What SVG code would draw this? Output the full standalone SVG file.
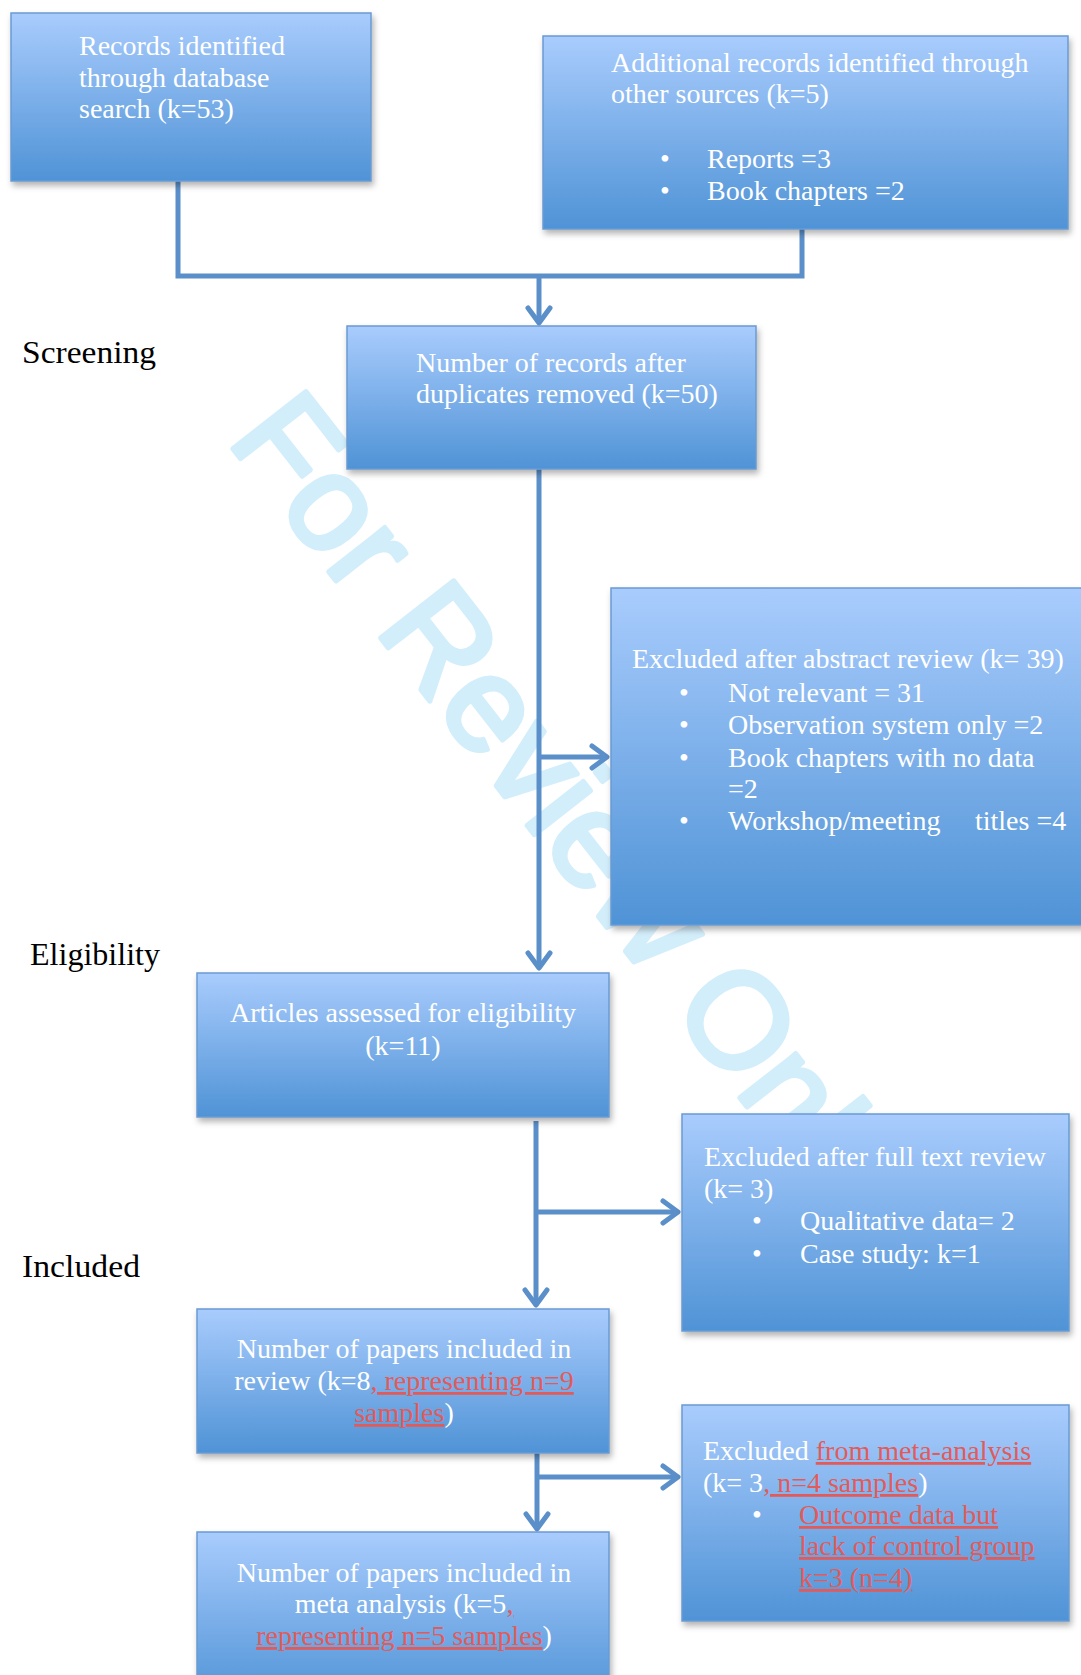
<svg xmlns="http://www.w3.org/2000/svg" width="1081" height="1675" viewBox="0 0 1081 1675">
<style>
.bx{fill:url(#g);stroke:#6a9bd2;stroke-width:1.5;filter:url(#sh)}
.t{font-family:"Liberation Serif","Times New Roman",serif;font-size:28px;fill:#ffffff}
.c{text-anchor:middle}
.r{fill:#e25b5b;text-decoration:underline}
.lab{font-family:"Liberation Serif","Times New Roman",serif;font-size:32px;fill:#000000}
.cn{fill:none;stroke:#5b8fc9;stroke-width:5}
.wm{font-family:"Liberation Sans",Arial,sans-serif;font-size:135px;fill:#d3eefb;stroke:#d3eefb;stroke-width:5;stroke-linejoin:round}
</style>
<defs>
<linearGradient id="g" x1="0" y1="0" x2="0" y2="1">
<stop offset="0" stop-color="#a9ccfd"/>
<stop offset="1" stop-color="#4f93d6"/>
</linearGradient>
<filter id="sh" x="-5%" y="-5%" width="115%" height="120%">
<feDropShadow dx="2" dy="4" stdDeviation="3" flood-color="#000" flood-opacity="0.3"/>
</filter>
<marker id="ar" markerUnits="userSpaceOnUse" markerWidth="40" markerHeight="40" viewBox="-20 -20 40 40" refX="0" refY="0" orient="auto">
<path d="M-15,-11 L0,0 L-15,11" fill="none" stroke="#5b8fc9" stroke-width="5" stroke-linecap="round" stroke-linejoin="round"/>
</marker>
</defs>
<rect width="1081" height="1675" fill="#ffffff"/>
<text class="wm" transform="translate(226,440) rotate(52)">For Review Only</text>

<g id="connectors">
<path class="cn" d="M178,181 V276 H802 V229"/>
<path class="cn" d="M539,276 V323" marker-end="url(#ar)"/>
<path class="cn" d="M539,469 V968" marker-end="url(#ar)"/>
<path class="cn" d="M539,757 H607" marker-end="url(#ar)"/>
<path class="cn" d="M536,1121 V1305" marker-end="url(#ar)"/>
<path class="cn" d="M536,1212 H678" marker-end="url(#ar)"/>
<path class="cn" d="M537,1437 V1529" marker-end="url(#ar)"/>
<path class="cn" d="M537,1477 H678" marker-end="url(#ar)"/>
</g>

<g id="labels">
<text class="lab" x="22" y="363" textLength="134" lengthAdjust="spacingAndGlyphs">Screening</text>
<text class="lab" x="30" y="965" textLength="130" lengthAdjust="spacingAndGlyphs">Eligibility</text>
<text class="lab" x="22" y="1277" textLength="118" lengthAdjust="spacingAndGlyphs">Included</text>
</g>

<g id="records-db">
<rect class="bx" x="11" y="13" width="360" height="168"/>
<text class="t" x="79" y="55">Records identified</text>
<text class="t" x="79" y="87">through database</text>
<text class="t" x="79" y="118">search (k=53)</text>
</g>

<g id="records-other">
<rect class="bx" x="543" y="36" width="525" height="193"/>
<text class="t" x="611" y="72">Additional records identified through</text>
<text class="t" x="611" y="103">other sources (k=5)</text>
<text class="t" x="660" y="168">•</text>
<text class="t" x="707" y="168">Reports =3</text>
<text class="t" x="660" y="200">•</text>
<text class="t" x="707" y="200">Book chapters =2</text>
</g>

<g id="after-duplicates">
<rect class="bx" x="347" y="326" width="409" height="143"/>
<text class="t" x="416" y="372">Number of records after</text>
<text class="t" x="416" y="403">duplicates removed (k=50)</text>
</g>

<g id="excluded-abstract">
<rect class="bx" x="611" y="588" width="480" height="337"/>
<text class="t" x="632" y="668">Excluded after abstract review (k= 39)</text>
<text class="t" x="679" y="702">•</text>
<text class="t" x="728" y="702">Not relevant = 31</text>
<text class="t" x="679" y="734">•</text>
<text class="t" x="728" y="734">Observation system only =2</text>
<text class="t" x="679" y="767">•</text>
<text class="t" x="728" y="767">Book chapters with no data</text>
<text class="t" x="728" y="798">=2</text>
<text class="t" x="679" y="830">•</text>
<text class="t" x="728" y="830">Workshop/meeting<tspan x="975">titles =4</tspan></text>
</g>

<g id="eligibility">
<rect class="bx" x="197" y="973" width="412" height="144"/>
<text class="t c" x="403" y="1022">Articles assessed for eligibility</text>
<text class="t c" x="403" y="1055">(k=11)</text>
</g>

<g id="excluded-fulltext">
<rect class="bx" x="682" y="1114" width="387" height="217"/>
<text class="t" x="704" y="1166">Excluded after full text review</text>
<text class="t" x="704" y="1198">(k= 3)</text>
<text class="t" x="752" y="1230">•</text>
<text class="t" x="800" y="1230">Qualitative data= 2</text>
<text class="t" x="752" y="1263">•</text>
<text class="t" x="800" y="1263">Case study: k=1</text>
</g>

<g id="included-review">
<rect class="bx" x="197" y="1309" width="412" height="144"/>
<text class="t c" x="404" y="1358">Number of papers included in</text>
<text class="t c" x="404" y="1390">review (k=8<tspan class="r">, representing n=9</tspan></text>
<text class="t c" x="404" y="1422"><tspan class="r">samples</tspan>)</text>
</g>

<g id="excluded-meta">
<rect class="bx" x="682" y="1405" width="387" height="216"/>
<text class="t" x="703" y="1460">Excluded <tspan class="r">from meta-analysis</tspan></text>
<text class="t" x="703" y="1492">(k= 3<tspan class="r">, n=4 samples</tspan>)</text>
<text class="t" x="752" y="1524">•</text>
<text class="t" x="799" y="1524"><tspan class="r">Outcome data but</tspan></text>
<text class="t" x="799" y="1555"><tspan class="r">lack of control group</tspan></text>
<text class="t" x="799" y="1587"><tspan class="r">k=3 (n=4)</tspan></text>
</g>

<g id="included-meta">
<rect class="bx" x="197" y="1532" width="412" height="170"/>
<text class="t c" x="404" y="1582">Number of papers included in</text>
<text class="t c" x="404" y="1613">meta analysis (k=5<tspan class="r">,</tspan></text>
<text class="t c" x="404" y="1645"><tspan class="r">representing n=5 samples</tspan>)</text>
</g>
</svg>
